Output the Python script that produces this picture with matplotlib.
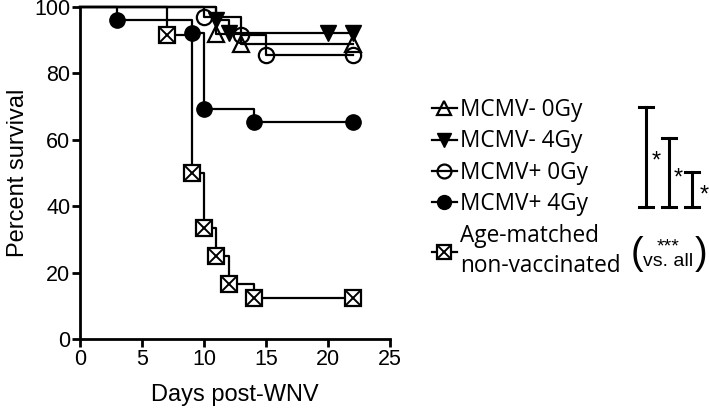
import matplotlib
matplotlib.use('Agg')
import matplotlib.pyplot as plt
from matplotlib.lines import Line2D
from matplotlib.legend_handler import HandlerTuple

# Kaplan-Meier steps (day, percent survival)
days_neg0 = [0, 11, 13, 22]
surv_neg0 = [100, 92, 89, 89]
days_neg4 = [0, 11, 12, 20, 22]
surv_neg4 = [100, 96, 92.3, 92.3, 92.3]
days_pos0 = [0, 10, 13, 15, 22]
surv_pos0 = [100, 97, 91.7, 85.7, 85.7]
days_pos4 = [0, 3, 9, 10, 14, 22]
surv_pos4 = [100, 96.2, 92.3, 69.2, 65.4, 65.4]
days_age = [0, 7, 9, 10, 11, 12, 14, 22]
surv_age = [100, 91.7, 50, 33.3, 25, 16.7, 12.5, 12.5]

labels = ['MCMV- 0Gy', 'MCMV- 4Gy', 'MCMV+ 0Gy', 'MCMV+ 4Gy',
          'Age-matched\nnon-vaccinated']
x_ticks = [0, 5, 10, 15, 20, 25]
y_ticks = [0, 20, 40, 60, 80, 100]

plt.rcParams['font.family'] = ['Liberation Sans', 'DejaVu Sans']

fig = plt.figure(figsize=(7.09, 4.16), dpi=100)
ax = fig.add_axes([0.113, 0.185, 0.437, 0.798])

lw = 1.6


def km(days, surv, **mk):
    ax.step(days, surv, where='post', color='black', lw=lw, zorder=2, clip_on=False)
    ax.plot(days[1:], surv[1:], ls='none', color='black', clip_on=False, zorder=3, **mk)


km(days_age, surv_age, marker='s', ms=12, mfc='white', mec='black', mew=1.6)
ax.plot(days_age[1:], surv_age[1:], ls='none', marker='x', ms=10, color='black',
        mew=1.4, clip_on=False, zorder=4)
km(days_pos4, surv_pos4, marker='o', ms=11, mfc='black', mec='black')
km(days_pos0, surv_pos0, marker='o', ms=11, mfc='none', mec='black', mew=1.6)
km(days_neg4, surv_neg4, marker='v', ms=11, mfc='black', mec='black')
km(days_neg0, surv_neg0, marker='^', ms=11, mfc='none', mec='black', mew=1.6)

ax.set_xlim(0, 25)
ax.set_ylim(0, 100)
ax.set_xticks(x_ticks)
ax.set_yticks(y_ticks)
for s in ['top', 'right']:
    ax.spines[s].set_visible(False)
for s in ['left', 'bottom']:
    ax.spines[s].set_linewidth(2)
ax.tick_params(width=2, length=6, labelsize=15.5, pad=1)
ax.set_xlabel('Days post-WNV', fontsize=17, labelpad=10)
ax.set_ylabel('Percent survival', fontsize=17, labelpad=4)

# legend
h_neg0 = Line2D([], [], color='black', lw=lw, marker='^', ms=10, mfc='none', mew=1.6)
h_neg4 = Line2D([], [], color='black', lw=lw, marker='v', ms=10, mfc='black')
h_pos0 = Line2D([], [], color='black', lw=lw, marker='o', ms=10, mfc='none', mew=1.6)
h_pos4 = Line2D([], [], color='black', lw=lw, marker='o', ms=10, mfc='black')
h_sq = Line2D([], [], color='black', lw=lw, marker='s', ms=10, mfc='white', mew=1.6)
h_x = Line2D([], [], color='none', marker='x', ms=8, mec='black', mew=1.4)
leg = fig.legend([h_neg0, h_neg4, h_pos0, h_pos4, (h_sq, h_x)], labels,
                 handler_map={tuple: HandlerTuple(ndivide=1, pad=0)},
                 loc='upper left', bbox_to_anchor=(432 / 709, 1 - 98 / 416), frameon=False,
                 prop={'family': 'Open Sans', 'size': 16.3}, handlelength=1.1,
                 handletextpad=0.15, labelspacing=0.33, borderpad=0, borderaxespad=0)
leg.get_texts()[4].set_linespacing(1.33)

# significance brackets
def bracket(x, y0, y1, cap=0.0105):
    fig.add_artist(Line2D([x, x], [y0, y1], color='black', lw=2.2, transform=fig.transFigure))
    for y in (y0, y1):
        fig.add_artist(Line2D([x - cap, x + cap], [y, y], color='black', lw=2.2,
                              transform=fig.transFigure))


yb = 1 - 207 / 416
bracket(646 / 709, yb, 1 - 107 / 416)
bracket(669 / 709, yb, 1 - 138 / 416)
bracket(692 / 709, yb, 1 - 172 / 416)
fig.text(656 / 709, 1 - 162 / 416, '*', fontsize=17, ha='center', va='center')
fig.text(678 / 709, 1 - 179 / 416, '*', fontsize=17, ha='center', va='center')
fig.text(704 / 709, 1 - 196 / 416, '*', fontsize=17, ha='center', va='center')

fig.text(637 / 709, 1 - 254 / 416, '(', fontsize=27, ha='center', va='center')
fig.text(701 / 709, 1 - 254 / 416, ')', fontsize=27, ha='center', va='center')
fig.text(668 / 709, 1 - 254 / 416, '***\nvs. all', fontsize=14, ha='center',
         va='center', linespacing=0.85)

fig.savefig('out.png', dpi=100)
